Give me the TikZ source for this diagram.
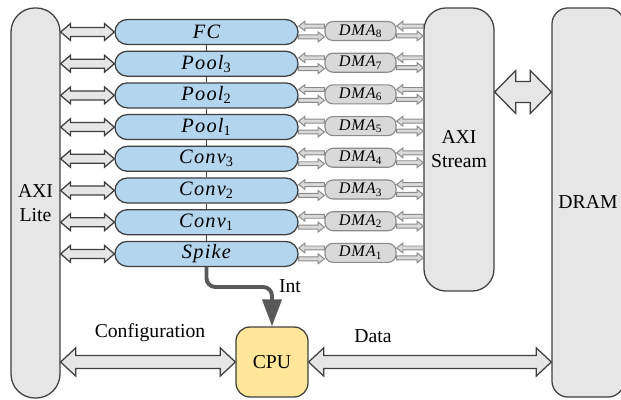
\documentclass[tikz,border=0pt]{standalone}
\usepackage{fontspec}
\setmainfont{Liberation Serif}
\newfontfamily\diagfont{Liberation Serif}
\usetikzlibrary{calc,arrows.meta}

\definecolor{boxgray}{HTML}{E6E6E6}
\definecolor{edgegray}{HTML}{3F3F3F}
\definecolor{layerblue}{HTML}{B4D5EE}
\definecolor{dmagray}{HTML}{D9D9D9}
\definecolor{dmaedge}{HTML}{8A8A8A}
\definecolor{cpuyellow}{HTML}{FFE699}
\definecolor{intgray}{HTML}{595959}

\newcommand{\sub}[1]{\textsubscript{\upshape #1}}

\tikzset{
	block/.style={draw=edgegray, fill=boxgray, line width=0.9pt, inner sep=0pt, align=center,
		font=\diagfont\fontsize{14}{17}\selectfont},
	layer/.style={draw=edgegray, fill=layerblue, line width=0.9pt, inner sep=0pt,
		minimum width=4.575cm, minimum height=0.625cm, rounded corners=0.31cm,
		font=\diagfont\fontsize{14.5}{16}\selectfont\itshape\addfontfeature{LetterSpace=6}},
	dmabox/.style={draw=dmaedge, fill=dmagray, line width=0.8pt, inner sep=0pt,
		minimum width=1.775cm, minimum height=0.475cm, rounded corners=0.2cm,
		font=\diagfont\fontsize{11.5}{13}\selectfont\itshape\addfontfeature{LetterSpace=6}},
	lab/.style={inner sep=0pt, font=\diagfont\fontsize{14}{17}\selectfont},
	% fat double-headed arrow: shaft half width, head half width, head length
	fatdbl/.style n args={3}{draw=edgegray, fill=boxgray, line width=0.9pt, line join=miter,
		to path={let \p1=(\tikztostart), \p2=(\tikztotarget) in
			(\x1,\y1) -- (\x1+#3,\y1+#2) -- (\x1+#3,\y1+#1) -- (\x2-#3,\y1+#1) -- (\x2-#3,\y1+#2) -- (\x2,\y1)
			-- (\x2-#3,\y1-#2) -- (\x2-#3,\y1-#1) -- (\x1+#3,\y1-#1) -- (\x1+#3,\y1-#2) -- cycle}},
	% fat one-headed arrow, either way
	fatone/.style n args={3}{draw=dmaedge, fill=dmagray, line width=0.7pt,
		to path={let \p1=(\tikztostart), \p2=(\tikztotarget), \n1={sign(\x2-\x1)} in
			(\x1,\y1+#1) -- ({\x2-(\n1)*#3},\y1+#1) -- ({\x2-(\n1)*#3},\y1+#2) -- (\x2,\y1)
			-- ({\x2-(\n1)*#3},\y1-#2) -- ({\x2-(\n1)*#3},\y1-#1) -- (\x1,\y1-#1) -- cycle}},
	chain/.style={draw=edgegray, line width=0.9pt},
	intline/.style={draw=intgray, line width=2.8pt, rounded corners=0.22cm,
		-{Triangle[length=0.675cm,width=0.475cm]}},
}

\begin{document}
\begin{tikzpicture}[x=0.025cm,y=-0.025cm]
	\useasboundingbox (0,0) rectangle (621,400);
	
	%BUSES AND MEMORY
	\node[block, minimum width=1.225cm, minimum height=9.75cm, rounded corners=0.6cm] (lite) at (35.5,203) {AXI\\Lite};
	\node[block, minimum width=1.75cm, minimum height=7.075cm, rounded corners=0.55cm] (stream) at (459,149.5) {AXI\\Stream};
	\node[block, minimum width=1.8cm, minimum height=9.725cm, rounded corners=0.4cm] (dram) at (588,202.5) {DRAM};
	\node[block, fill=cpuyellow, minimum width=1.8cm, minimum height=1.75cm, rounded corners=0.35cm] (cpu) at (272,362) {CPU};
	
	%LAYERS
	\foreach \name/\lab [count=\i from 0] in {fc/FC, pool3/Pool\sub{3}, pool2/Pool\sub{2}, pool1/Pool\sub{1},
		conv3/Conv\sub{3}, conv2/Conv\sub{2}, conv1/Conv\sub{1}, spike/Spike}
	\node[layer] (\name) at (206.5,32+31.7*\i) {\lab};
	
	\foreach \a/\b in {fc/pool3, pool3/pool2, pool2/pool1, pool1/conv3, conv3/conv2, conv2/conv1, conv1/spike}
	\draw[chain] (\a.south) -- (\b.north);
	
	%DMAS
	\foreach \name/\num [count=\i from 0] in {fc/8, pool3/7, pool2/6, pool1/5, conv3/4, conv2/3, conv1/2, spike/1}{
		\node[dmabox] (dma\num) at (360.5,31+31.7*\i) {DMA\sub{\num}};
		\draw[fatdbl={3.2pt}{6pt}{7pt}] (lite.east |- \name.west) to (\name.west);
		\draw[fatone={1.4pt}{3.5pt}{4.5pt}] ($(dma\num.west)+(0pt,3.5pt)$) to ($(\name.east)+(0pt,3.5pt)$);
		\draw[fatone={1.4pt}{3.5pt}{4.5pt}] ($(\name.east)+(0pt,-3.5pt)$) to ($(dma\num.west)+(0pt,-3.5pt)$);
		\draw[fatone={1.4pt}{3.5pt}{4.5pt}] ($(stream.west |- dma\num.east)+(0pt,3.5pt)$) to ($(dma\num.east)+(0pt,3.5pt)$);
		\draw[fatone={1.4pt}{3.5pt}{4.5pt}] ($(dma\num.east)+(0pt,-3.5pt)$) to ($(stream.west |- dma\num.east)+(0pt,-3.5pt)$);
	}
	
	%BUS ARROWS
	\draw[fatdbl={7.5pt}{15.3pt}{15pt}] (stream.east |- 0,92) to (dram.west |- 0,92);
	\draw[fatdbl={4.6pt}{10pt}{10.7pt}] (lite.east |- cpu.west) to (cpu.west);
	\draw[fatdbl={4.6pt}{10pt}{10.7pt}] (cpu.east) to (dram.west |- cpu.east);
	
	%INTERRUPT
	\coordinate (bend) at (cpu.north |- 0,287);
	\draw[intline] (spike.south) |- (bend) -- (cpu.north);
	
	%LABELS
	\node[lab] (intlab) at (290,286) {Int};
	\node[lab] (conflab) at (150,333) {Configuration};
	\node[lab] (datalab) at (373,336) {Data};
\end{tikzpicture}
\end{document}
